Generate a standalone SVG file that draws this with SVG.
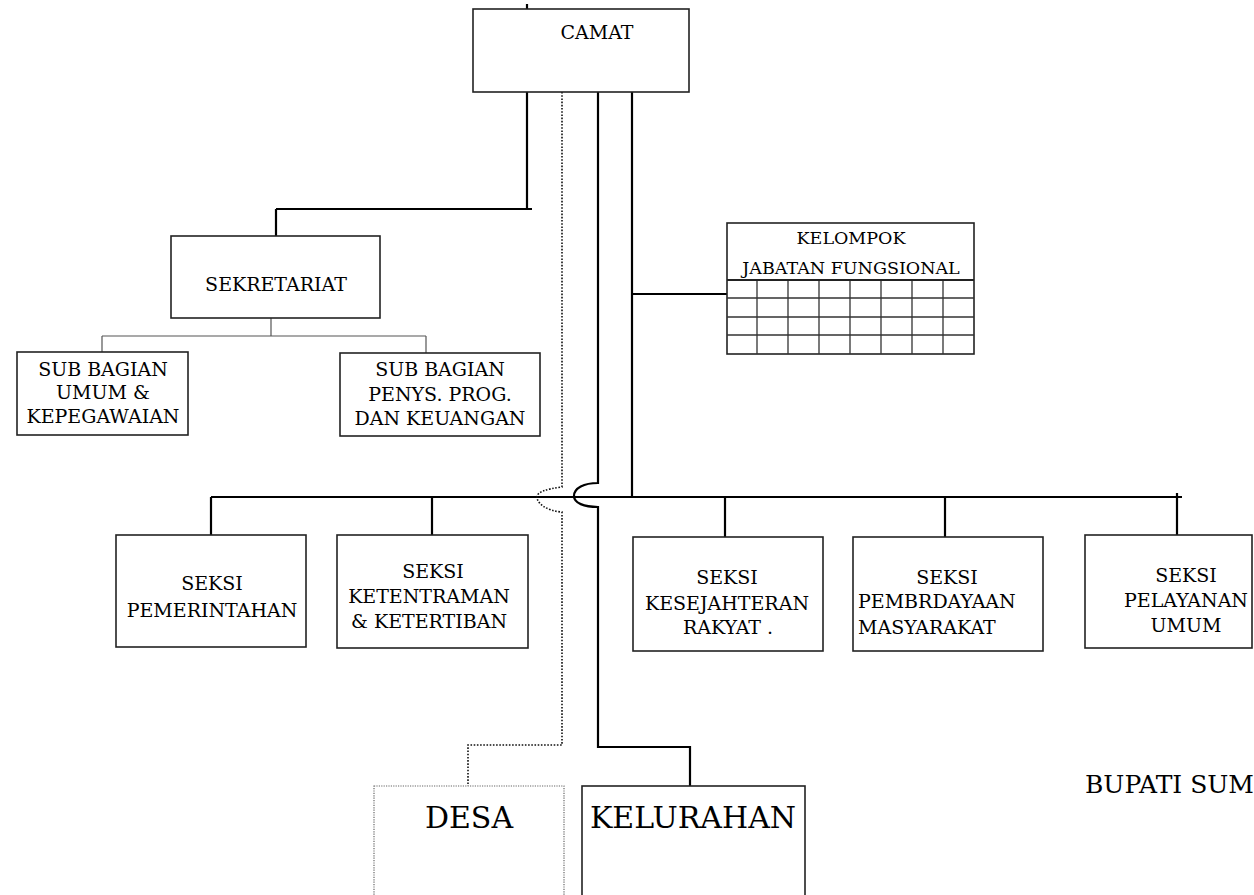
<svg xmlns="http://www.w3.org/2000/svg" width="1254" height="895" viewBox="0 0 1254 895">
<style>
text{font-family:"DejaVu Serif","Liberation Serif",serif;fill:#000;}
.t{font-size:19px;text-anchor:middle;}
.tl{font-size:19px;}
.k{font-size:17.5px;text-anchor:middle;}
.big{font-size:30px;text-anchor:middle;}
.box{fill:#fff;stroke:#222;stroke-width:1.6;}
.grid{stroke:#333;stroke-width:1.3;fill:none;}
.c{fill:none;stroke:#000;stroke-width:2.2;}
.cg{fill:none;stroke:#555;stroke-width:1.2;}
.cd{fill:none;stroke:#111;stroke-width:1.6;stroke-dasharray:1.6 1.6;}
.dbox{fill:#fff;stroke:#666;stroke-width:1.2;stroke-dasharray:1.2 1.2;}
</style>
<rect width="1254" height="895" fill="#fff"/>
<g id="connectors">
<path class="c" d="M527,4 V9"/>
<path class="c" d="M527,92 V209 M276,209 H532 M276,209 V236"/>
<path class="cg" d="M271,318 V336 M102,336 H426 M102,336 V352 M426,336 V353"/>
<path class="c" d="M632,92 V497 M632,294 H727"/>
<path class="c" d="M211,497 H1182 M211,497 V535 M432,497 V535 M725,497 V537 M945,497 V537 M1177,493 V535"/>
<path class="c" d="M598,92 V483 C584,483 574,488 574,496 C574,503 584,507 598,507 V747 H690 V786"/>
<path class="cd" d="M562,92 V487 C546,489 537,492 537,497 C537,503 546,511 562,512 V745 H468 V786"/>
</g>
<g id="camat">
<rect class="box" x="473" y="9" width="216" height="83" stroke-width="2"/>
<text class="t" x="597" y="39">CAMAT</text>
</g>
<g id="sekretariat">
<rect class="box" x="171" y="236" width="209" height="82"/>
<text class="t" x="276" y="291">SEKRETARIAT</text>
</g>
<g id="subbag-umum">
<rect class="box" x="17" y="352" width="171" height="83"/>
<text class="t" x="103" y="376">SUB BAGIAN</text>
<text class="t" x="103" y="399">UMUM &amp;</text>
<text class="t" x="103" y="423">KEPEGAWAIAN</text>
</g>
<g id="subbag-keuangan">
<rect class="box" x="340" y="353" width="200" height="83"/>
<text class="t" x="440" y="376">SUB BAGIAN</text>
<text class="t" x="440" y="401">PENYS. PROG.</text>
<text class="t" x="440" y="425">DAN KEUANGAN</text>
</g>
<g id="kelompok">
<rect class="box" x="727" y="223" width="247" height="131"/>
<text class="k" x="851" y="244">KELOMPOK</text>
<text class="k" x="851" y="274">JABATAN FUNGSIONAL</text>
<path class="grid" d="M727,280 H974 M727,298 H974 M727,317 H974 M727,335 H974 M757,280 V354 M788,280 V354 M819,280 V354 M850,280 V354 M881,280 V354 M912,280 V354 M943,280 V354"/>
<path d="M727,280 H974" stroke="#222" stroke-width="1.8"/>
</g>
<g id="seksi-pemerintahan">
<rect class="box" x="116" y="535" width="190" height="112"/>
<text class="t" x="212" y="590">SEKSI</text>
<text class="t" x="212" y="617">PEMERINTAHAN</text>
</g>
<g id="seksi-ketentraman">
<rect class="box" x="337" y="535" width="191" height="113"/>
<text class="t" x="433" y="578">SEKSI</text>
<text class="t" x="429" y="603">KETENTRAMAN</text>
<text class="t" x="429" y="628">&amp; KETERTIBAN</text>
</g>
<g id="seksi-kesejahteran">
<rect class="box" x="633" y="537" width="190" height="114"/>
<text class="t" x="727" y="584">SEKSI</text>
<text class="t" x="727" y="610">KESEJAHTERAN</text>
<text class="t" x="728" y="634">RAKYAT .</text>
</g>
<g id="seksi-pemberdayaan">
<rect class="box" x="853" y="537" width="190" height="114"/>
<text class="t" x="947" y="584">SEKSI</text>
<text class="tl" x="858" y="608">PEMBRDAYAAN</text>
<text class="tl" x="858" y="634">MASYARAKAT</text>
</g>
<g id="seksi-pelayanan">
<rect class="box" x="1085" y="535" width="167" height="113"/>
<text class="t" x="1186" y="582">SEKSI</text>
<text class="t" x="1186" y="607">PELAYANAN</text>
<text class="t" x="1186" y="632">UMUM</text>
</g>
<g id="desa">
<rect class="dbox" x="374" y="786" width="190" height="120"/>
<text class="big" x="469" y="828">DESA</text>
</g>
<g id="kelurahan">
<rect class="box" x="582" y="786" width="223" height="120"/>
<text class="big" x="693" y="828">KELURAHAN</text>
</g>
<g id="bupati">
<text style="font-size:25px" x="1085" y="793">BUPATI SUM</text>
</g>
</svg>
